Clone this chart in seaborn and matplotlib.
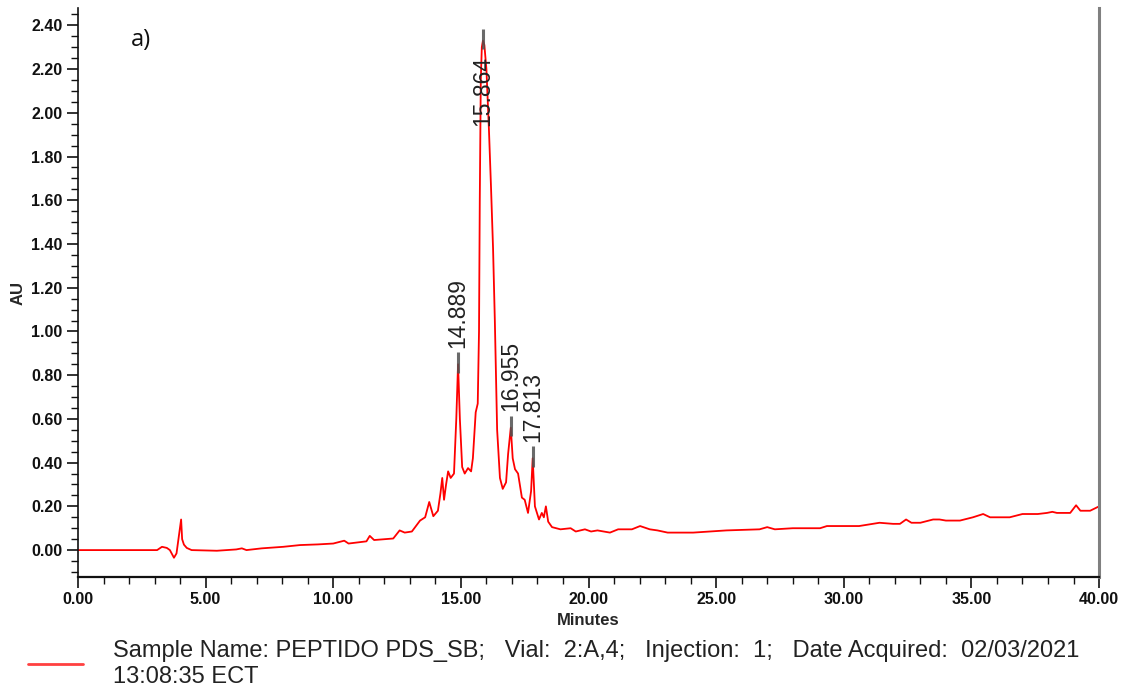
import numpy as np
import pandas as pd
import matplotlib.pyplot as plt
import seaborn as sns
from matplotlib.lines import Line2D
from matplotlib.ticker import MultipleLocator, FormatStrFormatter

# chromatogram trace (minutes, AU)
minutes = [0.0, 3.1, 3.29, 3.48, 3.6, 3.76, 3.86, 3.96, 4.04, 4.08, 4.15, 4.26, 4.45,
           5.44, 6.2, 6.42, 6.6, 7.2, 8.04, 8.7, 9.4, 10.0, 10.43, 10.6, 11.3, 11.43,
           11.6, 12.35, 12.6, 12.8, 13.08, 13.4, 13.6, 13.76, 13.92, 14.1, 14.2, 14.27,
           14.34, 14.42, 14.5, 14.6, 14.73, 14.82, 14.889, 14.96, 15.05, 15.15, 15.28,
           15.4, 15.47, 15.58, 15.66, 15.71, 15.74, 15.78, 15.82, 15.864, 15.92, 16.0,
           16.1, 16.18, 16.26, 16.33, 16.42, 16.53, 16.64, 16.77, 16.85, 16.955, 17.03,
           17.12, 17.24, 17.39, 17.5, 17.63, 17.75, 17.813, 17.9, 18.06, 18.17, 18.25,
           18.33, 18.42, 18.57, 18.9, 19.3, 19.5, 19.86, 20.1, 20.35, 20.84, 21.16,
           21.7, 22.02, 22.4, 22.7, 23.1, 24.1, 25.4, 26.7, 27.0, 27.3, 28.0, 29.07,
           29.34, 30.6, 31.4, 31.93, 32.2, 32.44, 32.65, 33.0, 33.5, 33.75, 34.0, 34.55,
           35.06, 35.46, 35.73, 36.5, 37.0, 37.6, 37.96, 38.17, 38.35, 38.87, 39.1,
           39.27, 39.65, 40.0]
au = [0.0, 0.0, 0.015, 0.01, 0.0, -0.035, -0.015, 0.07, 0.14, 0.05, 0.025, 0.01, 0.0,
      -0.003, 0.003, 0.008, 0.0, 0.008, 0.015, 0.023, 0.026, 0.03, 0.043, 0.03, 0.04, 0.065,
      0.046, 0.053, 0.09, 0.08, 0.085, 0.135, 0.15, 0.22, 0.155, 0.18, 0.26, 0.33,
      0.23, 0.3, 0.36, 0.33, 0.35, 0.6, 0.85, 0.6, 0.38, 0.35, 0.375,
      0.36, 0.42, 0.63, 0.67, 1.0, 1.6, 2.15, 2.3, 2.33, 2.31, 2.2,
      1.92, 1.66, 1.38, 1.05, 0.55, 0.33, 0.28, 0.31, 0.44, 0.56, 0.42,
      0.37, 0.35, 0.24, 0.23, 0.17, 0.27, 0.42, 0.2, 0.14, 0.17, 0.15,
      0.2, 0.13, 0.105, 0.095, 0.1, 0.085, 0.095, 0.085, 0.09, 0.08, 0.095,
      0.095, 0.11, 0.095, 0.09, 0.08, 0.08, 0.09, 0.095, 0.105, 0.095, 0.1, 0.1,
      0.11, 0.11, 0.125, 0.12, 0.12, 0.14, 0.125, 0.125, 0.14, 0.14, 0.135, 0.135,
      0.15, 0.165, 0.15, 0.15, 0.165, 0.165, 0.17, 0.175, 0.17, 0.17, 0.205,
      0.18, 0.18, 0.2]

# integrated peaks
peak_labels = ['14.889', '15.864', '16.955', '17.813']
peak_times = [14.889, 15.864, 16.955, 17.813]
peak_heights = [0.85, 2.33, 0.56, 0.42]

legend_text = ('Sample Name: PEPTIDO PDS_SB;   Vial:  2:A,4;   Injection:  1;   '
               'Date Acquired:  02/03/2021\n13:08:35 ECT')

df = pd.DataFrame({'Minutes': minutes, 'AU': au})

sns.set_style('ticks')
plt.rcParams['font.family'] = ['Liberation Sans', 'DejaVu Sans']

fig = plt.figure(figsize=(11.27, 6.91), dpi=100)
ax = fig.add_axes([0.0692, 0.165, 0.906, 0.823])

sns.lineplot(data=df, x='Minutes', y='AU', color='#ff0000', linewidth=1.3, ax=ax)

ax.set_xlim(0, 40)
ax.set_ylim(-0.123, 2.478)

# peak apex markers and retention time labels
ymax = ax.get_ylim()[1]
for lab, t, h in zip(peak_labels, peak_times, peak_heights):
    ax.vlines(t, h - 0.04, h + 0.055, color='#505050', linewidth=2.2, alpha=0.85, zorder=3)
    base = h + 0.075
    if base + 0.35 > ymax:
        base = h - 0.39
    ax.text(t, base, lab, rotation=90, ha='center', va='bottom', fontsize=16.5, color='#222222')

ax.xaxis.set_major_locator(MultipleLocator(5))
ax.xaxis.set_minor_locator(MultipleLocator(1))
ax.yaxis.set_major_locator(MultipleLocator(0.2))
ax.yaxis.set_minor_locator(MultipleLocator(0.05))
ax.xaxis.set_major_formatter(FormatStrFormatter('%.2f'))
ax.yaxis.set_major_formatter(FormatStrFormatter('%.2f'))
ax.tick_params(which='major', length=8, width=1.2, labelsize=11.5, direction='out',
               colors='#111111', pad=3)
ax.tick_params(which='minor', length=5, width=1.0, direction='out', colors='#111111')
for lbl in ax.get_xticklabels() + ax.get_yticklabels():
    lbl.set_fontweight('bold')

ax.set_xlabel('Minutes', fontsize=12, fontweight='bold', labelpad=4)
ax.set_ylabel('AU', fontsize=12, fontweight='bold', labelpad=4)

ax.spines['top'].set_visible(False)
ax.spines['right'].set_color('#808080')
ax.spines['right'].set_linewidth(2.2)
ax.spines['left'].set_linewidth(1.2)
ax.spines['bottom'].set_linewidth(1.6)
for s in ['left', 'bottom']:
    ax.spines[s].set_color('#111111')

ax.text(0.052, 0.944, 'a)', transform=ax.transAxes, fontsize=17,
        family=['Open Sans', 'DejaVu Sans'], color='#111111', ha='left', va='center')

# legend line and sample information below the plot
fig.add_artist(Line2D([28 / 1127, 83 / 1127], [1 - 664 / 691, 1 - 664 / 691],
                      color='#ff4040', linewidth=2, transform=fig.transFigure))
fig.text(113 / 1127, 1 - 664 / 691, legend_text, fontsize=17, color='#222222',
         ha='left', va='center', linespacing=1.22)

plt.savefig('out.png', dpi=100)
